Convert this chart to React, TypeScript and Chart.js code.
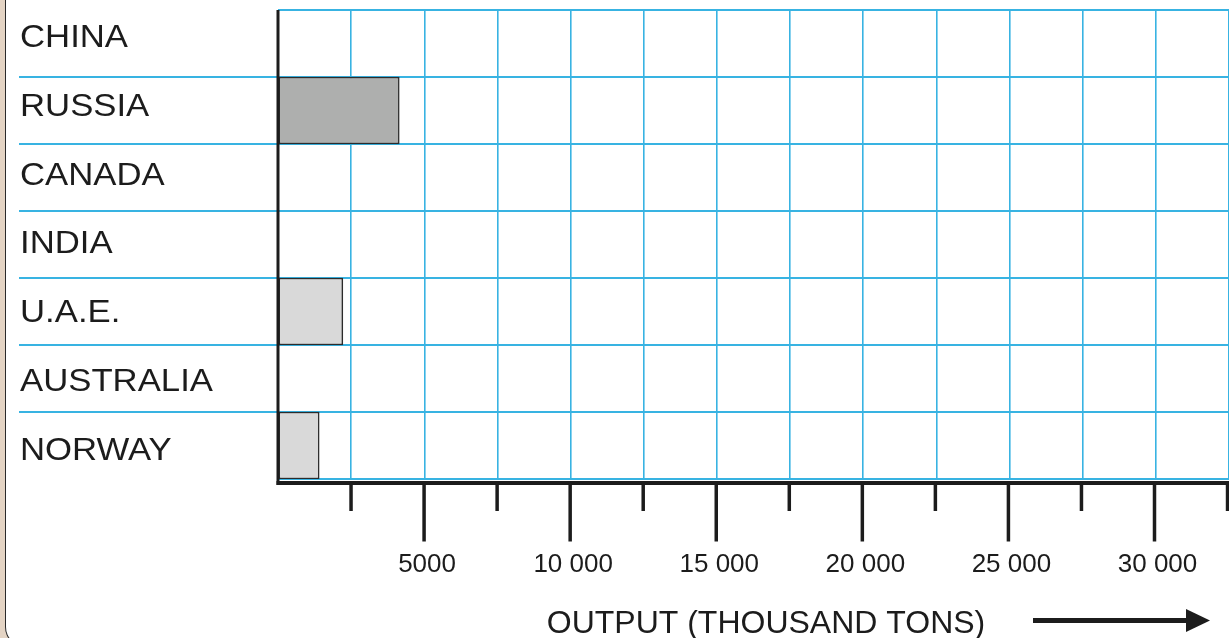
import React, { useEffect, useRef } from "react";
import { Chart, registerables } from "chart.js";

Chart.register(...registerables);

// ---- data ----
const categories = ["CHINA", "RUSSIA", "CANADA", "INDIA", "U.A.E.", "AUSTRALIA", "NORWAY"];
const outputValues = [null, 4150, null, null, 2220, null, 1410];
const barColors = ["#d9d9d9", "#aeafae", "#d9d9d9", "#d9d9d9", "#d9d9d9", "#d9d9d9", "#d9d9d9"];
const tickValues = [2500, 5000, 7500, 10000, 12500, 15000, 17500, 20000, 22500, 25000, 27500, 30000, 32500];
const tickLabelValues = [5000, 10000, 15000, 20000, 25000, 30000];
const tickLabels = ["5000", "10 000", "15 000", "20 000", "25 000", "30 000"];
const axisTitle = "OUTPUT (THOUSAND TONS)";
const xMin = 0;
const xMax = 32550;
const xStep = 2500;

const BLUE = "#38b3e2";
const INK = "#1c1c1c";
const FONT = "'Liberation Sans', Arial, Helvetica, sans-serif";

const decorPlugin = {
  id: "decor",
  afterDatasetsDraw(chart: any) {
    const { ctx, chartArea: a, scales } = chart;
    const xs = scales.x;
    const ys = scales.y;
    ctx.save();

    // horizontal row separators extended into label area
    ctx.strokeStyle = BLUE;
    ctx.lineWidth = 2;
    for (let i = 1; i < categories.length; i++) {
      const yy = (ys.getPixelForValue(i - 1) + ys.getPixelForValue(i)) / 2;
      ctx.beginPath();
      ctx.moveTo(19, yy);
      ctx.lineTo(a.left, yy);
      ctx.stroke();
    }

    // axes
    ctx.strokeStyle = INK;
    ctx.lineCap = "butt";
    const axisY = a.bottom + 4;
    ctx.lineWidth = 4;
    ctx.beginPath();
    ctx.moveTo(a.left - 1.5, axisY);
    ctx.lineTo(a.right, axisY);
    ctx.stroke();
    ctx.lineWidth = 3;
    ctx.beginPath();
    ctx.moveTo(a.left, a.top);
    ctx.lineTo(a.left, axisY + 2);
    ctx.stroke();

    // tick marks
    ctx.lineWidth = 3.5;
    tickValues.forEach((v) => {
      const px = xs.getPixelForValue(v);
      const long = v % 5000 === 0;
      ctx.beginPath();
      ctx.moveTo(px, axisY);
      ctx.lineTo(px, axisY + (long ? 58.5 : 28));
      ctx.stroke();
    });

    // tick labels
    ctx.fillStyle = INK;
    ctx.font = `26px ${FONT}`;
    ctx.textAlign = "center";
    ctx.textBaseline = "alphabetic";
    tickLabelValues.forEach((v, i) => {
      ctx.fillText(tickLabels[i], xs.getPixelForValue(v) + 3, a.bottom + 92.7);
    });

    // category labels
    ctx.font = `31px ${FONT}`;
    ctx.textAlign = "left";
    categories.forEach((c, i) => {
      const cy = ys.getPixelForValue(i) - 7.3 + 1.7 * i;
      ctx.save();
      ctx.translate(20, cy + 11.1);
      ctx.scale(1.12, 1);
      ctx.fillText(c, 0, 0);
      ctx.restore();
    });

    // axis title
    ctx.font = `32px ${FONT}`;
    ctx.textAlign = "center";
    ctx.fillText(axisTitle, (a.left + a.right) / 2 + 12.5, a.bottom + 153.5);

    // arrow
    const arrowY = a.bottom + 141.5;
    ctx.lineWidth = 5;
    ctx.beginPath();
    ctx.moveTo(1033, arrowY);
    ctx.lineTo(1190, arrowY);
    ctx.stroke();
    ctx.fillStyle = INK;
    ctx.beginPath();
    ctx.moveTo(1186, arrowY - 11.5);
    ctx.lineTo(1210, arrowY);
    ctx.lineTo(1186, arrowY + 11.5);
    ctx.closePath();
    ctx.fill();

    ctx.restore();
  },
};

export default function App() {
  const ref = useRef<HTMLCanvasElement>(null);

  useEffect(() => {
    const chart = new Chart(ref.current as HTMLCanvasElement, {
      type: "bar",
      data: {
        labels: categories,
        datasets: [
          {
            data: outputValues as any,
            backgroundColor: barColors,
            borderColor: "#2b2b2b",
            borderWidth: 1.5,
            borderSkipped: false,
            barPercentage: 1,
            categoryPercentage: 1,
          },
        ],
      },
      options: {
        indexAxis: "y",
        responsive: false,
        animation: false,
        events: [],
        layout: { padding: { left: 278, right: 0, top: 10, bottom: 159 } },
        plugins: { legend: { display: false }, tooltip: { enabled: false }, title: { display: false } },
        scales: {
          x: {
            type: "linear",
            min: xMin,
            max: xMax,
            ticks: { display: false, stepSize: xStep, includeBounds: false },
            grid: { color: BLUE, lineWidth: 1.6, drawTicks: false },
            border: { display: false },
          },
          y: {
            type: "category",
            ticks: { display: false },
            grid: {
              offset: true,
              drawTicks: false,
              lineWidth: 2,
              color: (c: any) => (c.index === categories.length ? "rgba(0,0,0,0)" : BLUE),
            },
            border: { display: false },
          },
        },
      },
      plugins: [decorPlugin],
    });
    return () => chart.destroy();
  }, []);

  return (
    <div
      style={{
        position: "fixed",
        left: 0,
        top: 0,
        width: 1229,
        height: 638,
        overflow: "hidden",
        background: "#e4d4c4",
      }}
    >
      <div
        style={{
          position: "absolute",
          left: 4.5,
          top: -10,
          width: 1300,
          height: 656,
          background: "#ffffff",
          borderLeft: "1.5px solid #2a2a2a",
          borderBottom: "1.5px solid #2a2a2a",
          borderBottomLeftRadius: 20,
        }}
      />
      <canvas
        ref={ref}
        width={1229}
        height={638}
        style={{ position: "absolute", left: 0, top: 0, display: "block" }}
      />
    </div>
  );
}
